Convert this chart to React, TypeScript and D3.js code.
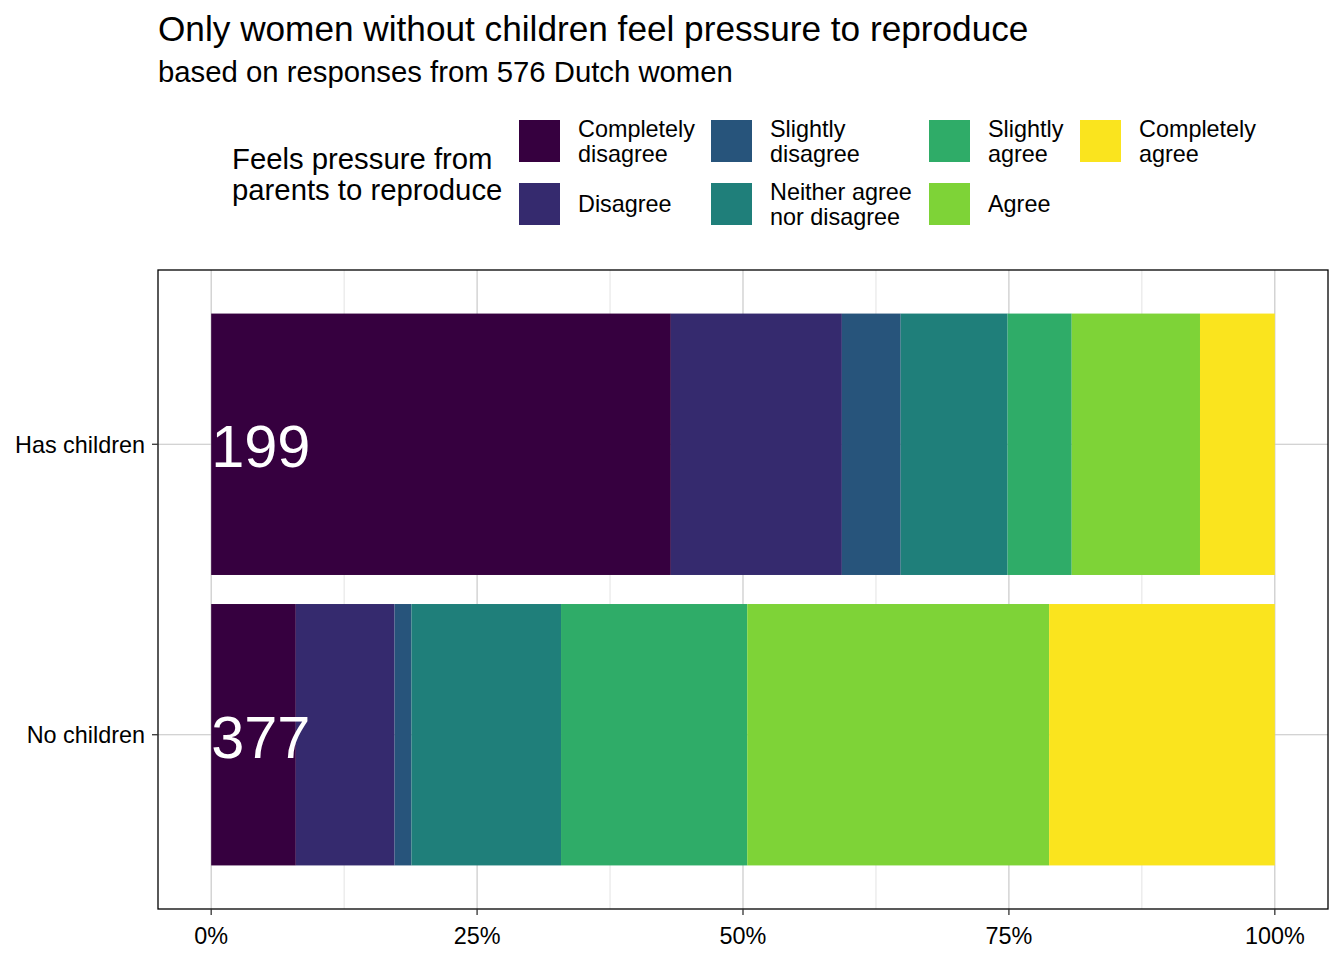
import React from "react";
import * as d3 from "d3";

const groups = ["Has children", "No children"];
const levels = [
  "Completely disagree",
  "Disagree",
  "Slightly disagree",
  "Neither agree nor disagree",
  "Slightly agree",
  "Agree",
  "Completely agree",
];
// legend labels, wrapped as in the original
const legendLabels = [
  ["Completely", "disagree"],
  ["Disagree"],
  ["Slightly", "disagree"],
  ["Neither agree", "nor disagree"],
  ["Slightly", "agree"],
  ["Agree"],
  ["Completely", "agree"],
];
const colors = ["#36003f", "#352a6e", "#27547b", "#1f7f7a", "#2fac68", "#7ed337", "#fae41e"];

// respondents per answer
const hasChildren = [86, 32, 11, 20, 12, 24, 14];
const noChildren = [30, 35, 6, 53, 66, 107, 80];
const counts = [hasChildren, noChildren];

const xTicks = [0, 0.25, 0.5, 0.75, 1];
const xMinor = [0.125, 0.375, 0.625, 0.875];

const W = 1344;
const H = 960;
const panel = { left: 158, right: 1328, top: 270, bottom: 909 };
const FONT = "'Liberation Sans', Arial, sans-serif";
const SMALL = 23.4;

export default function App() {
  const x = d3.scaleLinear().domain([-0.05, 1.05]).range([panel.left, panel.right]);
  const y = d3
    .scalePoint<string>()
    .domain(groups)
    .range([panel.top, panel.bottom])
    .padding(0.6);
  const bandPx = y.step() * 0.9;
  const fmt = d3.format(".0%");

  const rows = groups.map((g, gi) => {
    const total = d3.sum(counts[gi]);
    let acc = 0;
    const segs = counts[gi].map((c, li) => {
      const x0 = acc / total;
      acc += c;
      return { level: levels[li], x0, x1: acc / total, color: colors[li] };
    });
    return { group: g, total, segs };
  });

  // legend: 2 rows, filled column by column
  const colX = [519, 711, 929, 1080];
  const rowY = [120, 183];
  const keyW = 41;
  const keyH = 42;

  return (
    <div style={{ position: "absolute", left: 0, top: 0 }}>
      <svg width={W} height={H} style={{ display: "block", fontFamily: FONT }}>
        <rect width={W} height={H} fill="#fff" />
        <text x={158} y={41} fontSize={35.2} fill="#000">
          Only women without children feel pressure to reproduce
        </text>
        <text x={158} y={82} fontSize={29.3} fill="#000">
          based on responses from 576 Dutch women
        </text>

        {/* legend */}
        <text x={232} y={169} fontSize={29.3} fill="#000">
          Feels pressure from
        </text>
        <text x={232} y={200} fontSize={29.3} fill="#000">
          parents to reproduce
        </text>
        {levels.map((lv, i) => {
          const cx = colX[Math.floor(i / 2)];
          const ry = rowY[i % 2];
          const lines = legendLabels[i];
          const mid = ry + keyH / 2;
          return (
            <g key={lv}>
              <rect x={cx} y={ry} width={keyW} height={keyH} fill={colors[i]} />
              {lines.map((t, j) => (
                <text
                  key={t}
                  x={cx + 59}
                  y={mid + (j - (lines.length - 1) / 2) * 25 + 8}
                  fontSize={SMALL}
                  fill="#000"
                >
                  {t}
                </text>
              ))}
            </g>
          );
        })}

        {/* grid */}
        {xMinor.map((t) => (
          <line key={"mi" + t} x1={x(t)} x2={x(t)} y1={panel.top} y2={panel.bottom}
            stroke="#e3e3e3" strokeWidth={1} />
        ))}
        {xTicks.map((t) => (
          <line key={"ma" + t} x1={x(t)} x2={x(t)} y1={panel.top} y2={panel.bottom}
            stroke="#c4c4c4" strokeWidth={1.1} />
        ))}
        {groups.map((g) => (
          <line key={"gy" + g} x1={panel.left} x2={panel.right} y1={y(g)} y2={y(g)}
            stroke="#c4c4c4" strokeWidth={1.1} />
        ))}

        {/* bars */}
        {rows.map((r) => (
          <g key={r.group}>
            {r.segs.map((s) => (
              <rect
                key={s.level}
                x={x(s.x0)}
                width={x(s.x1) - x(s.x0)}
                y={(y(r.group) as number) - bandPx / 2}
                height={bandPx}
                fill={s.color}
              />
            ))}
            <text x={x(0)} y={(y(r.group) as number) + 23} fontSize={59.5} fill="#fff">
              {r.total}
            </text>
          </g>
        ))}

        <rect x={panel.left} y={panel.top} width={panel.right - panel.left}
          height={panel.bottom - panel.top} fill="none" stroke="#000" strokeWidth={1.3} />

        {/* y axis */}
        {groups.map((g) => (
          <g key={"ya" + g}>
            <line x1={panel.left - 6} x2={panel.left} y1={y(g)} y2={y(g)} stroke="#333" strokeWidth={1.3} />
            <text x={panel.left - 13} y={(y(g) as number) + 8.5} textAnchor="end" fontSize={SMALL} fill="#000">
              {g}
            </text>
          </g>
        ))}

        {/* x axis */}
        {xTicks.map((t) => (
          <g key={"xa" + t}>
            <line x1={x(t)} x2={x(t)} y1={panel.bottom} y2={panel.bottom + 6} stroke="#333" strokeWidth={1.3} />
            <text x={x(t)} y={944} textAnchor="middle" fontSize={SMALL} fill="#000">
              {fmt(t)}
            </text>
          </g>
        ))}
      </svg>
    </div>
  );
}
